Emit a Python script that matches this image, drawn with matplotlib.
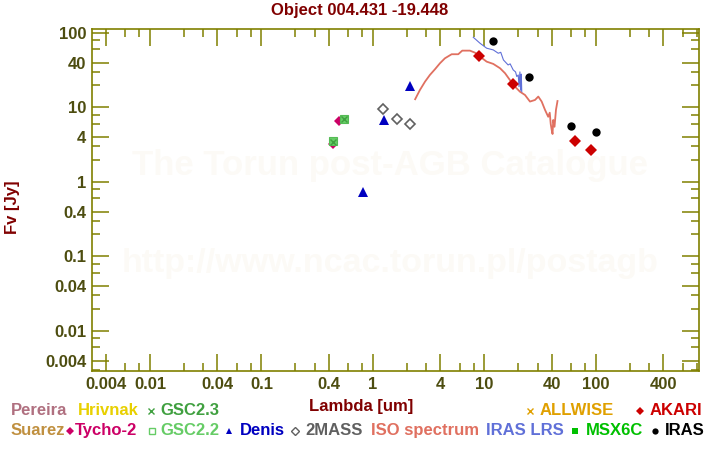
import matplotlib
matplotlib.use("Agg")
import matplotlib.pyplot as plt
from matplotlib.lines import Line2D
from matplotlib.ticker import FixedLocator, NullFormatter
import numpy as np

plt.rcParams['font.family'] = ['Liberation Sans', 'DejaVu Sans']

# ---------------- data ----------------
title = "Object 004.431 -19.448"

tycho_lam = [0.44, 0.50]
tycho_flux = [3.2, 6.5]
gsc23_lam = [0.44, 0.55]
gsc23_flux = [3.4, 6.9]
gsc22_lam = [0.44, 0.55]
gsc22_flux = [3.5, 6.9]
denis_lam = [0.81, 1.25, 2.15]
denis_flux = [0.73, 6.8, 19.4]
tmass_lam = [1.24, 1.65, 2.15]
tmass_flux = [9.5, 7.0, 6.0]
akari_lam = [9.0, 18.0, 65.0, 90.0]
akari_flux = [48.7, 20.5, 3.5, 2.65]
iras_lam = [12.0, 25.0, 60.0, 100.0]
iras_flux = [77.0, 26.0, 5.6, 4.65]

iso_lam = [2.39, 2.64, 2.93, 3.24, 3.60, 3.99, 4.42, 5.08, 5.82, 6.32, 7.41, 8.22,
           9.12, 10.47, 12.0, 13.8, 15.3, 16.9, 18.8, 20.8, 23.1, 25.6, 28.4, 30.4,
           32.6, 34.9, 37.3, 38.5, 39.3, 40.1, 40.8, 41.4, 42.5, 43.8, 45.2]
iso_flux = [12.9, 17.2, 22.2, 27.3, 32.6, 39.2, 45.7, 51.8, 51.8, 57.9, 57.9, 54.4,
            48.1, 41.2, 38.4, 33.6, 28.8, 23.4, 19.0, 16.3, 14.7, 12.0, 12.6, 14.0,
            12.0, 9.3, 7.5, 8.5, 6.0, 5.0, 4.4, 6.8, 5.5, 9.3, 12.2]

lrs_lam = [7.94, 9.12, 10.47, 12.0, 13.3, 14.0, 14.8, 16.3, 17.0, 18.1, 19.0, 19.5,
           20.1, 20.4, 20.8, 21.1, 21.4, 21.6]
lrs_flux = [87.5, 72.8, 62.4, 59.2, 53.4, 55.0, 43.4, 37.2, 38.5, 31.9, 30.0, 26.0,
            27.3, 19.0, 30.0, 17.0, 28.0, 16.3]

x_ticks = [0.004, 0.01, 0.04, 0.1, 0.4, 1, 4, 10, 40, 100, 400]
x_ticklabels = ["0.004", "0.01", "0.04", "0.1", "0.4", "1", "4", "10", "40", "100", "400"]
y_ticks = [0.004, 0.01, 0.04, 0.1, 0.4, 1, 4, 10, 40, 100]
y_ticklabels = ["0.004", "0.01", "0.04", "0.1", "0.4", "1", "4", "10", "40", "100"]

# ---------------- figure ----------------
W, H = 720, 450
fig = plt.figure(figsize=(7.2, 4.5), dpi=100)
fig.patch.set_facecolor('white')
ax = fig.add_axes([92 / W, (H - 371) / H, (699 - 92) / W, (371 - 29) / H])
ax.set_xscale('log')
ax.set_yscale('log')
ax.set_xlim(0.00302, 840)
ax.set_ylim(0.0029, 113)

olive = '#808000'
ticklab = '#4d4d10'
for s in ax.spines.values():
    s.set_color(olive)
    s.set_linewidth(1.2)

minor_x = [m * 10.0 ** e for e in range(-3, 3) for m in (2, 3, 6, 8)]
minor_y = [m * 10.0 ** e for e in range(-3, 3) for m in (2, 3, 6, 8)]
ax.xaxis.set_major_locator(FixedLocator(x_ticks))
ax.yaxis.set_major_locator(FixedLocator(y_ticks))
ax.xaxis.set_minor_locator(FixedLocator(minor_x))
ax.yaxis.set_minor_locator(FixedLocator(minor_y))
ax.xaxis.set_minor_formatter(NullFormatter())
ax.yaxis.set_minor_formatter(NullFormatter())
ax.set_xticklabels(x_ticklabels)
ax.set_yticklabels(y_ticklabels)
ax.tick_params(which='major', direction='in', length=12.5, width=1.1, color=olive,
               top=True, right=True, labelsize=12, labelcolor=ticklab, pad=4)
ax.tick_params(which='minor', direction='in', length=6, width=1.1, color=olive,
               top=True, right=True)
for lab in ax.get_xticklabels() + ax.get_yticklabels():
    lab.set_fontweight('bold')

# watermark
wm_x = (390 - 92) / (699 - 92)
ax.text(wm_x, 0.6, "The Torun post-AGB Catalogue", transform=ax.transAxes,
        ha='center', va='center', fontsize=25, fontweight='bold', color='#fcfaf6', zorder=0)
ax.text(wm_x, 0.315, "http://www.ncac.torun.pl/postagb", transform=ax.transAxes,
        ha='center', va='center', fontsize=24.5, fontweight='bold', color='#fcfaf6', zorder=0)

# spectra
ax.plot(iso_lam, iso_flux, color='#e07060', lw=1.3, zorder=2)
ax.plot(lrs_lam, lrs_flux, color='#6070d8', lw=0.8, zorder=3)

# photometry
ax.plot(tycho_lam, tycho_flux, 'D', color='#cc0066', ms=5, mew=0, zorder=4)
ax.plot(gsc22_lam, gsc22_flux, 's', mfc='#66cc66', mec='#55bb55', ms=6, mew=0.8, zorder=5)
ax.plot(gsc23_lam, gsc23_flux, 'x', color='#40a040', ms=4, mew=1, zorder=6)
ax.plot(denis_lam, denis_flux, '^', color='#0000c0', ms=7, mew=0, zorder=4)
ax.plot(tmass_lam, tmass_flux, 'D', mfc='none', mec='#606060', ms=5, mew=1.2, zorder=4)
ax.plot(akari_lam, akari_flux, 'D', color='#cc0000', ms=6, mew=0, zorder=4)
ax.plot(iras_lam, iras_flux, 'o', color='black', ms=6, mew=0, zorder=4)

# titles
fig.text(360 / W, 1 - 11 / H, title, ha='center', va='center', fontsize=12,
         fontweight='bold', color='#800000')
fig.text(361 / W, 1 - 406 / H, "Lambda [um]", ha='center', va='center', fontsize=12,
         fontweight='bold', color='#800000')
fig.text(12 / W, 1 - 207 / H, "Fv [Jy]", ha='center', va='center', rotation=90,
         fontsize=12, fontweight='bold', color='#800000')

# legend
def ltext(x, y, s, c):
    fig.text(x / W, 1 - y / H, s, ha='left', va='center', fontsize=12,
             fontweight='bold', color=c)

def lmark(x, y, m, c, filled=True, ms=4.5):
    if filled:
        ln = Line2D([x / W], [1 - y / H], marker=m, color=c, ms=ms, mew=0, ls='none',
                    transform=fig.transFigure)
    else:
        ln = Line2D([x / W], [1 - y / H], marker=m, mfc='none', mec=c, ms=ms, mew=1,
                    ls='none', transform=fig.transFigure)
    fig.add_artist(ln)

r1, r2 = 410.5, 430.5
ltext(11, r1, "Pereira", '#b07080')
ltext(78, r1, "Hrivnak", '#e8d000')
lmark(151, r1, 'x', '#40a040', filled=False, ms=4.5)
ltext(160, r1, "GSC2.3", '#40a040')
lmark(530, r1, 'x', '#e0a000', filled=False, ms=5)
ltext(540, r1, "ALLWISE", '#e0a000')
lmark(640, r1, 'D', '#cc0000', ms=4.5)
ltext(650, r1, "AKARI", '#cc0000')

ltext(11, r2, "Suarez", '#c09040')
lmark(70, r2, 'D', '#cc0066', ms=4.5)
ltext(75, r2, "Tycho-2", '#cc0066')
lmark(152, r2, 's', '#66cc66', filled=False, ms=4)
ltext(160, r2, "GSC2.2", '#66cc66')
lmark(229.5, r2, '^', '#0000c0', ms=5)
ltext(240, r2, "Denis", '#0000c0')
lmark(295, r2, 'D', '#606060', filled=False, ms=4)
ltext(305, r2, "2MASS", '#606060')
ltext(371, r2, "ISO spectrum", '#e07060')
ltext(486, r2, "IRAS LRS", '#6070d8')
lmark(575, r2, 's', '#00c000', ms=5)
ltext(586, r2, "MSX6C", '#00c000')
lmark(655, r2, 'o', 'black', ms=4.5)
ltext(665, r2, "IRAS", 'black')

fig.savefig("out.png", dpi=100, facecolor='white')
